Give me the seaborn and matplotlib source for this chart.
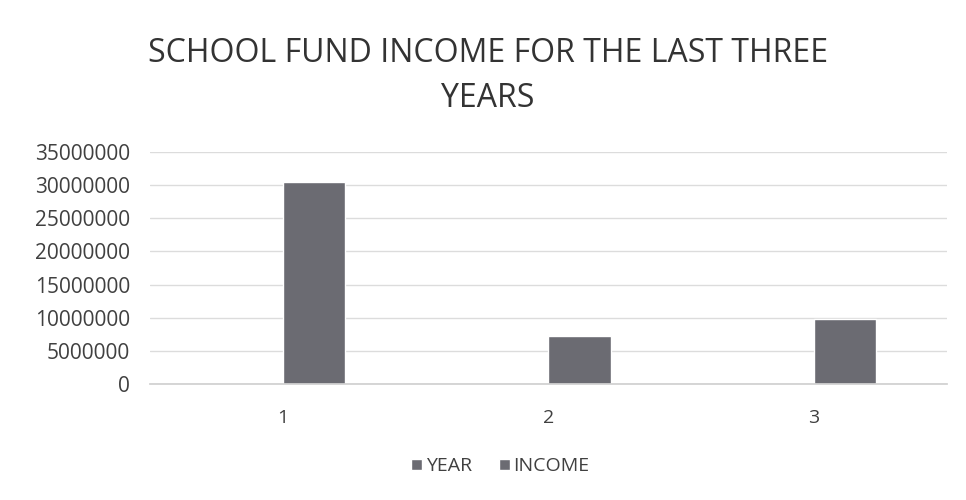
import pandas as pd
import matplotlib.pyplot as plt
import seaborn as sns

sns.set_theme(style='white')
plt.rcParams['font.family'] = ['Open Sans', 'DejaVu Sans']

categories = ['1', '2', '3']
year = [2017, 2018, 2019]
income = [30400000, 7300000, 9800000]

df = pd.DataFrame({
	'cat': categories * 2,
	'value': year + income,
	'series': ['YEAR'] * 3 + ['INCOME'] * 3,
})

bar_color = '#6b6b72'

fig, ax = plt.subplots(figsize=(9.66, 5), dpi=100)
fig.subplots_adjust(left=0.155, right=0.98, top=0.696, bottom=0.232)

sns.barplot(data=df, x='cat', y='value', hue='series',
			palette=[bar_color, bar_color], width=0.47,
			ax=ax, saturation=1, legend=True)

ax.set_ylim(0, 35000000)
ax.set_yticks(range(0, 35000001, 5000000))
ax.set_yticklabels([str(v) for v in range(0, 35000001, 5000000)])
ax.yaxis.grid(True, color='#dcdcdc', linewidth=1)
ax.set_axisbelow(True)
for s in ['top', 'right', 'left']:
	ax.spines[s].set_visible(False)
ax.spines['bottom'].set_color('#d0d0d0')
ax.tick_params(axis='y', length=0, labelsize=15, colors='#404040', pad=14)
ax.tick_params(axis='x', length=0, labelsize=14, colors='#404040', pad=18)
ax.set_xlabel('')
ax.set_ylabel('')

fig.suptitle('SCHOOL FUND INCOME FOR THE LAST THREE\nYEARS', x=0.505, y=0.925,
			fontsize=23, color='#333333', linespacing=1.45)

ax.legend(loc='center', bbox_to_anchor=(0.44, -0.355), ncol=2, frameon=False,
		  fontsize=14, handlelength=0.55, handleheight=0.55, handletextpad=0.2,
		  columnspacing=1.4, labelcolor='#404040')

fig.savefig('out.png', dpi=100)
